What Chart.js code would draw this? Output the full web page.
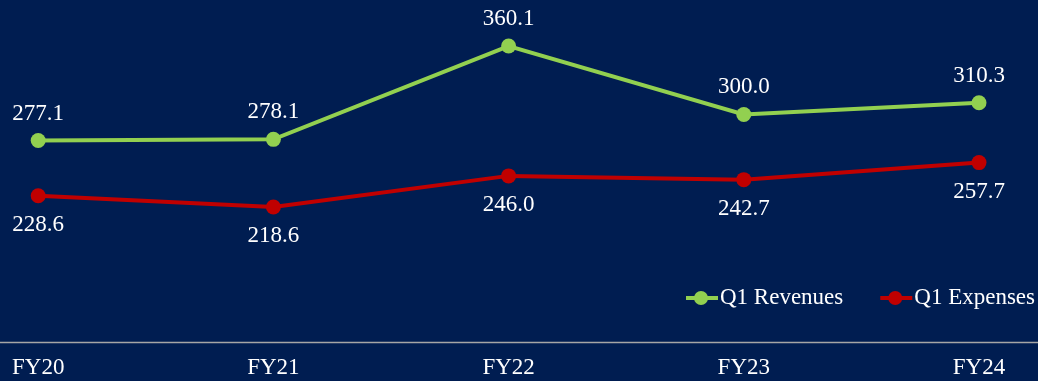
<!DOCTYPE html>
<html>
<head>
<meta charset="utf-8">
<script src="https://cdn.jsdelivr.net/npm/chart.js@4.4.1/dist/chart.umd.min.js"></script>
<style>
  html, body { margin: 0; padding: 0; background: #001D51; }
  #wrap { width: 1038px; height: 381px; }
</style>
</head>
<body>
<div id="wrap"><canvas id="c" width="1038" height="381"></canvas></div>
<script>
// Fiscal years on the x axis
const years = ['FY20', 'FY21', 'FY22', 'FY23', 'FY24'];
// First-quarter figures per fiscal year
const q1Revenues = [277.1, 278.1, 360.1, 300.0, 310.3];
const q1Expenses = [228.6, 218.6, 246.0, 242.7, 257.7];

const BG = '#001D51';
const GREEN = '#92D050';
const RED = '#C00000';
const FONT = '"Liberation Serif", "Times New Roman", serif';
const FONT_SIZE = 23;

// Paint the navy backdrop behind everything
const backdrop = {
  id: 'backdrop',
  beforeDraw(chart) {
    const ctx = chart.ctx;
    ctx.save();
    ctx.fillStyle = BG;
    ctx.fillRect(0, 0, chart.width, chart.height);
    ctx.restore();
  }
};

// Full-width baseline under the plot
const baseline = {
  id: 'baseline',
  afterDraw(chart) {
    const ctx = chart.ctx;
    const y = Math.round(chart.chartArea.bottom) + 0.5;
    ctx.save();
    ctx.strokeStyle = '#A6A6A6';
    ctx.lineWidth = 1.5;
    ctx.beginPath();
    ctx.moveTo(0, y);
    ctx.lineTo(chart.width, y);
    ctx.stroke();
    ctx.restore();
  }
};

// Value labels: revenues above their points, expenses below
const valueLabels = {
  id: 'valueLabels',
  afterDatasetsDraw(chart) {
    const ctx = chart.ctx;
    ctx.save();
    ctx.font = FONT_SIZE + 'px ' + FONT;
    ctx.fillStyle = '#FFFFFF';
    ctx.textAlign = 'center';
    ctx.textBaseline = 'middle';
    chart.data.datasets.forEach((ds, i) => {
      const meta = chart.getDatasetMeta(i);
      const above = ds.labelPos === 'above';
      meta.data.forEach((pt, j) => {
        const y = above ? pt.y - 27 : pt.y + 29;
        ctx.fillText(ds.data[j].toFixed(1), pt.x, y);
      });
    });
    ctx.restore();
  }
};

// Legend in the lower right: short line with a dot, then the series name
const lineLegend = {
  id: 'lineLegend',
  afterDraw(chart) {
    const ctx = chart.ctx;
    ctx.save();
    ctx.font = FONT_SIZE + 'px ' + FONT;
    ctx.textBaseline = 'middle';
    const y = 298;
    let x = 686;
    chart.data.datasets.forEach((ds) => {
      ctx.strokeStyle = ds.borderColor;
      ctx.lineWidth = 4;
      ctx.beginPath();
      ctx.moveTo(x, y);
      ctx.lineTo(x + 32, y);
      ctx.stroke();
      ctx.fillStyle = ds.borderColor;
      ctx.beginPath();
      ctx.arc(x + 15, y, 7, 0, Math.PI * 2);
      ctx.fill();
      ctx.fillStyle = '#FFFFFF';
      ctx.textAlign = 'left';
      ctx.fillText(ds.label, x + 34, y);
      x += 34 + ctx.measureText(ds.label).width + 37;
    });
    ctx.restore();
  }
};

new Chart(document.getElementById('c'), {
  type: 'line',
  data: {
    labels: years,
    datasets: [
      {
        label: 'Q1 Revenues',
        data: q1Revenues,
        borderColor: GREEN,
        backgroundColor: GREEN,
        pointBackgroundColor: GREEN,
        borderWidth: 4,
        pointRadius: 7.5,
        pointBorderWidth: 0,
        tension: 0,
        labelPos: 'above'
      },
      {
        label: 'Q1 Expenses',
        data: q1Expenses,
        borderColor: RED,
        backgroundColor: RED,
        pointBackgroundColor: RED,
        borderWidth: 4,
        pointRadius: 7.5,
        pointBorderWidth: 0,
        tension: 0,
        labelPos: 'below'
      }
    ]
  },
  options: {
    responsive: false,
    maintainAspectRatio: false,
    animation: false,
    clip: false,
    layout: { padding: { left: 38, right: 59, top: 0, bottom: 0 } },
    plugins: {
      legend: { display: false },
      tooltip: { enabled: false }
    },
    scales: {
      x: {
        offset: false,
        grid: { display: false, drawTicks: false },
        border: { display: false },
        afterFit(axis) { axis.height = 39; },
        ticks: {
          color: '#FFFFFF',
          font: { family: FONT, size: FONT_SIZE },
          padding: 12,
          maxRotation: 0,
          autoSkip: false
        }
      },
      y: {
        display: false,
        min: 100,
        max: 394
      }
    }
  },
  plugins: [backdrop, baseline, valueLabels, lineLegend]
});
</script>
</body>
</html>
